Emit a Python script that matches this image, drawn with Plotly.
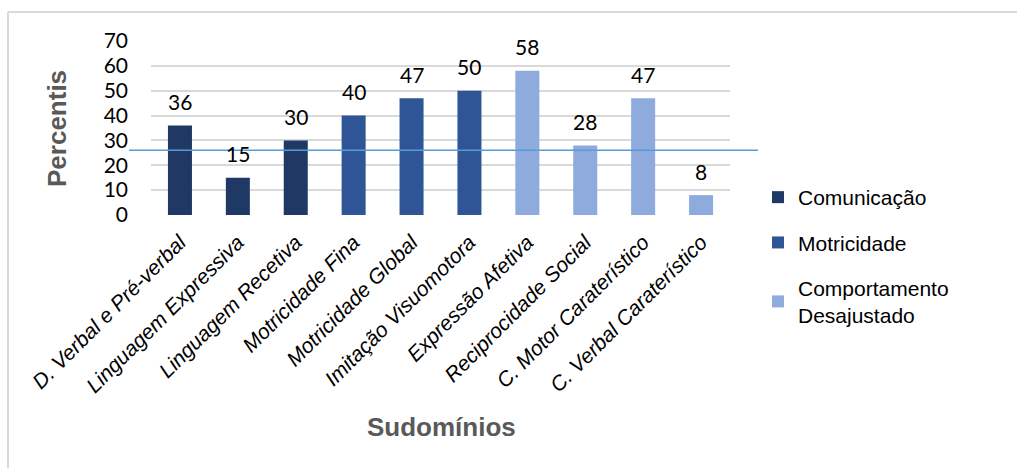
import plotly.graph_objects as go

# Subdomain scores (percentiles), grouped by domain
categorias = [
    "D. Verbal e Pré-verbal", "Linguagem Expressiva", "Linguagem Recetiva",
    "Motricidade Fina", "Motricidade Global", "Imitação Visuomotora",
    "Expressão Afetiva", "Reciprocidade Social", "C. Motor Caraterístico",
    "C. Verbal Caraterístico",
]
comunicacao_cat = categorias[0:3]
comunicacao_val = [36, 15, 30]
motricidade_cat = categorias[3:6]
motricidade_val = [40, 47, 50]
comportamento_cat = categorias[6:10]
comportamento_val = [58, 28, 47, 8]
referencia = 26
y_ticks = [0, 10, 20, 30, 40, 50, 60, 70]

W, H = 1017, 468
L, R, T, B = 151, 730, 41, 215   # plot area in pixels

def px_x(p):
    return (p - L) / (R - L)

def px_y(p):
    return (B - p) / (B - T)

cores = ["#203864", "#2f5597", "#8faadc"]
series = [
    ("Comunicação", comunicacao_cat, comunicacao_val),
    ("Motricidade", motricidade_cat, motricidade_val),
    ("Comportamento<br>Desajustado", comportamento_cat, comportamento_val),
]

fig = go.Figure()
for i, (nome, cats, vals) in enumerate(series):
    fig.add_trace(go.Bar(
        x=cats, y=vals, name=nome, marker_color=cores[i],
        marker_line_width=0, width=0.415, legendgroup=str(i),
    ))

annotations = []
for nome, cats, vals in series:
    for c, v in zip(cats, vals):
        annotations.append(dict(
            x=c, y=v, xref="x", yref="y", text=str(v), showarrow=False,
            yshift=24, font=dict(family="Lato, Carlito, sans-serif", size=21, color="#000000"),
        ))

annotations.append(dict(
    x=px_x(57), y=0.5, xref="paper", yref="paper", text="<b>Percentis</b>",
    textangle=-90, showarrow=False, xanchor="center", yanchor="middle",
    font=dict(family="Liberation Sans, Arial, sans-serif", size=26, color="#595959"),
))
annotations.append(dict(
    x=px_x(441), y=px_y(427), xref="paper", yref="paper", text="<b>Sudomínios</b>",
    showarrow=False, xanchor="center", yanchor="middle",
    font=dict(family="Liberation Sans, Arial, sans-serif", size=26, color="#595959"),
))

shapes = [
    # reference line
    dict(type="line", xref="paper", yref="y", x0=px_x(129), x1=px_x(758),
         y0=referencia, y1=referencia, line=dict(color="#5b9bd5", width=1.5), layer="above"),
    # chart frame (top and left edges)
    dict(type="line", xref="paper", yref="paper", x0=px_x(8), x1=px_x(1017),
         y0=px_y(12), y1=px_y(12), line=dict(color="#d9d9d9", width=2)),
    dict(type="line", xref="paper", yref="paper", x0=px_x(8), x1=px_x(8),
         y0=px_y(12), y1=px_y(468), line=dict(color="#d9d9d9", width=2)),
]

fig.update_layout(
    width=W, height=H,
    margin=dict(l=L, r=W - R, t=T, b=H - B, pad=0),
    paper_bgcolor="white", plot_bgcolor="white",
    barmode="overlay",
    showlegend=True,
    legend=dict(
        x=px_x(758), y=px_y(177), xanchor="left", yanchor="top",
        font=dict(family="Liberation Sans, Arial, sans-serif", size=21, color="#000000"),
        tracegroupgap=15, itemwidth=30, bgcolor="rgba(0,0,0,0)",
    ),
    annotations=annotations,
    shapes=shapes,
    xaxis=dict(
        type="category", categoryorder="array", categoryarray=categorias,
        tickangle=-45, showgrid=False, showline=False, zeroline=False,
        tickfont=dict(family="Liberation Sans, Arial, sans-serif", size=21,
                      color="#000000", style="italic"),
        ticks="", automargin=False, ticklabelstandoff=10,
    ),
    yaxis=dict(
        range=[0, 70], tickvals=y_ticks, showgrid=True, gridcolor="#d9d9d9",
        gridwidth=2, zeroline=False, showline=False, ticks="",
        tickfont=dict(family="Lato, Carlito, sans-serif", size=21, color="#000000"),
        ticklabelstandoff=22, automargin=False,
    ),
)

fig.write_html("out.html")
